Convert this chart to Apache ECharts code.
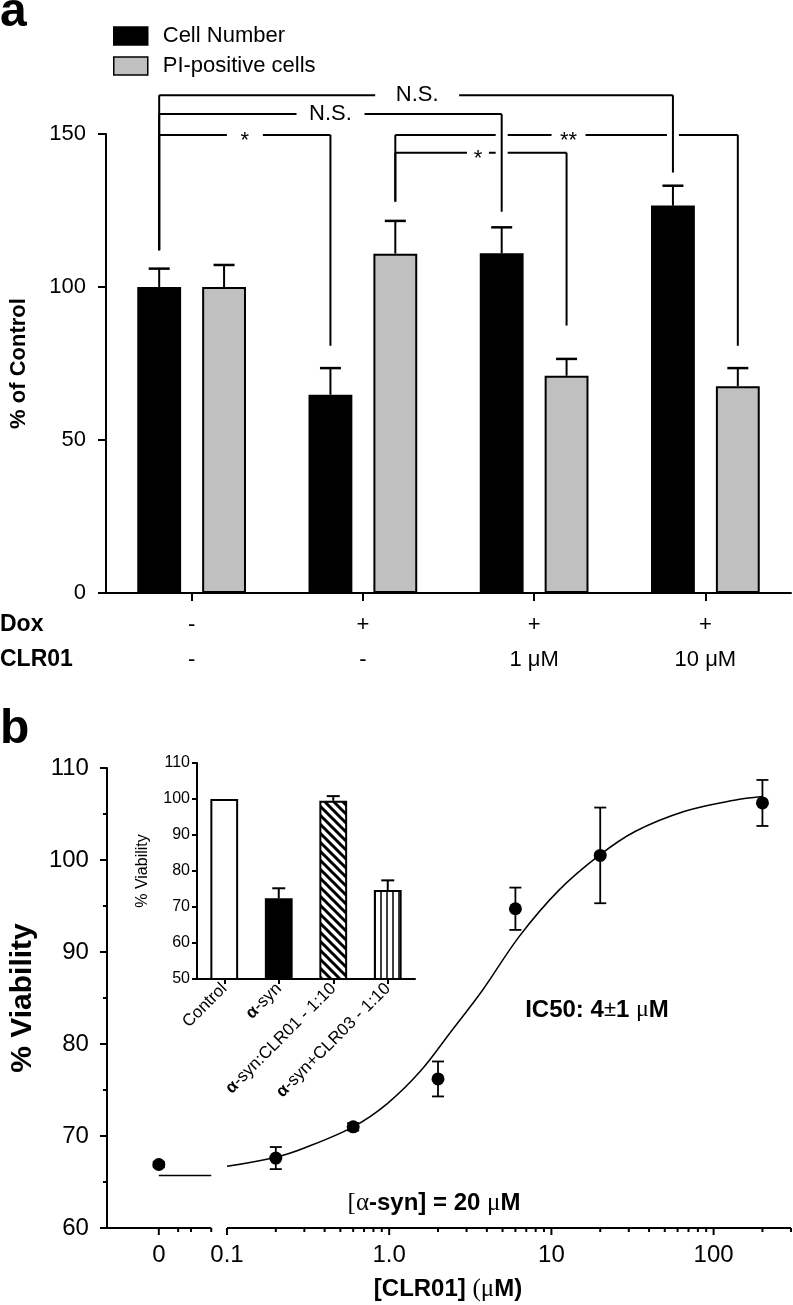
<!DOCTYPE html>
<html>
<head>
<meta charset="utf-8">
<script src="https://cdn.jsdelivr.net/npm/echarts@6/dist/echarts.min.js"></script>
<style>
  html, body { margin: 0; padding: 0; background: #fff; }
  #chart { width: 793px; height: 1305px; }
</style>
</head>
<body>
<div id="chart"></div>
<script>
// ---------- panel a: cell number / PI-positive cells ----------
const groups = ['g1', 'g2', 'g3', 'g4'];
const doxRow = ['-', '+', '+', '+'];
const clrRow = ['-', '-', '1 μM', '10 μM'];
const cellNumber = [100, 64.8, 111, 126.6];
const cellNumberErr = [6, 8.7, 8.5, 6.5];
const piPositive = [100, 110.9, 71, 67.6];
const piPositiveErr = [7.2, 10.7, 5.5, 5.9];

// significance brackets: bar = [group, series], level and drop ends in % of control
const brackets = [
  { from: [0, 0], to: [3, 0], level: 162.7, ends: [112, 137.4], text: 'N.S.' },
  { from: [0, 0], to: [2, 0], level: 156.5, ends: [112, 124.6], text: 'N.S.' },
  { from: [0, 0], to: [1, 0], level: 149.7, ends: [112, 80.8], text: '*' },
  { from: [1, 1], to: [3, 1], level: 149.7, ends: [127.9, 80.8], text: '**' },
  { from: [1, 1], to: [2, 1], level: 143.9, ends: [127.9, 87.4], text: '*' }
];
// where each bracket label sits (group units) and half width of its gap (px)
const bracketLabelAt = [1.317, 0.811, 0.311, 2.201, 1.672];
const bracketLabelGap = [42, 34, 18, 17, 11];

// ---------- panel b: viability vs CLR01 ----------
const viabConc = [0, 0.2, 0.6, 2, 6, 20, 200];
const viabMean = [66.9, 67.6, 71.0, 76.2, 94.7, 100.5, 106.2];
const viabErr = [0.3, 1.2, 0.4, 1.9, 2.3, 5.2, 2.5];

// fitted curve
const curveConc = [0.1, 0.2, 0.3, 0.6, 0.97, 1.55, 2.37, 3.78, 6.34, 11.1, 19.7, 32.8, 66.4, 134, 200];
const curveVal = [66.7, 67.7, 68.7, 71.0, 73.5, 77.0, 81.2, 85.9, 91.7, 96.7, 100.5, 103.1, 105.3, 106.5, 106.9];
const fitBottom = 65.7;

// log x axis with a break; "0" is drawn left of the break
const xMin = 0.0182, xMax = 300;
const xBreak = [0.08, 0.1];
const zeroPos = 0.038;
const xMajorTicks = [zeroPos, 0.1, 1, 10, 100];
const xMajorLabels = ['0', '0.1', '1.0', '10', '100'];
const xMinorTicks = [0.05, 0.06, 0.08,
  0.2, 0.3, 0.4, 0.5, 0.6, 0.7, 0.8, 0.9,
  2, 3, 4, 5, 6, 7, 8, 9,
  20, 30, 40, 50, 60, 70, 80, 90,
  200, 300];

// ---------- inset ----------
const insetCats = ['Control', 'α-syn', 'α-syn:CLR01 - 1:10', 'α-syn+CLR03 - 1:10'];
const insetMean = [100, 72.4, 99.5, 74.7];
const insetErr = [0, 2.8, 1.3, 2.7];

const FONT = 'Liberation Sans, Arial, Helvetica, sans-serif';
const SERIF = 'Liberation Serif, Times New Roman, serif';
const BLACK = '#000';
const GREY = '#c0c0c0';

// bar layout in panel a (fraction of a category band)
const BAR_W = 0.256, BAR_GAP = 0.48;
const half = (BAR_W + BAR_W * BAR_GAP) / 2;
const barOffset = [-half, half];

function stripes(kind) {
  const c = document.createElement('canvas');
  const s = kind === 'diag' ? 9 : 6;
  c.width = s; c.height = s;
  const g = c.getContext('2d');
  g.fillStyle = '#fff';
  g.fillRect(0, 0, s, s);
  g.strokeStyle = '#000';
  g.beginPath();
  if (kind === 'diag') {
    g.lineWidth = 3;
    g.moveTo(-s, 0); g.lineTo(s, 2 * s);
    g.moveTo(0, 0); g.lineTo(s, s);
    g.moveTo(0, -s); g.lineTo(2 * s, s);
  } else {
    g.lineWidth = 1.5;
    g.moveTo(s / 2, 0); g.lineTo(s / 2, s);
  }
  g.stroke();
  return { image: c, repeat: 'repeat' };
}

const insetStyles = [
  { color: '#fff', borderColor: BLACK, borderWidth: 2 },
  { color: BLACK, borderColor: BLACK, borderWidth: 2 },
  { color: stripes('diag'), borderColor: BLACK, borderWidth: 2 },
  { color: stripes('vert'), borderColor: BLACK, borderWidth: 2 }
];

const lineStyle = { color: BLACK, width: 2 };
const seg = (x1, y1, x2, y2, w, col) => ({
  type: 'line',
  shape: { x1, y1, x2, y2 },
  style: { stroke: col || BLACK, lineWidth: w || 2 }
});

const errA = [];
cellNumber.forEach((v, i) => errA.push([i + barOffset[0], v, cellNumberErr[i]]));
piPositive.forEach((v, i) => errA.push([i + barOffset[1], v, piPositiveErr[i]]));

const chart = echarts.init(document.getElementById('chart'));

const option = {
  animation: false,
  textStyle: { fontFamily: FONT, color: BLACK },
  legend: {
    data: ['Cell Number', 'PI-positive cells'],
    orient: 'vertical',
    left: 113,
    top: 25,
    padding: 0,
    icon: 'rect',
    itemWidth: 34,
    itemHeight: 18,
    itemGap: 8,
    itemStyle: { borderColor: BLACK, borderWidth: 1.5 },
    textStyle: { fontSize: 22, lineHeight: 22, color: BLACK, padding: [0, 0, 0, 10] }
  },
  grid: [
    { left: 103, top: 134, width: 688, height: 459 },
    { left: 101, top: 768, width: 690, height: 460 },
    { left: 197, top: 763, width: 218, height: 216 }
  ],
  xAxis: [
    {
      type: 'category', gridIndex: 0, data: groups,
      axisLine: { show: true, lineStyle },
      axisTick: { show: true, alignWithLabel: true, length: 8, lineStyle },
      axisLabel: {
        fontSize: 22, lineHeight: 35, margin: 14, color: BLACK,
        formatter: (v, i) => doxRow[i] + '\n' + clrRow[i]
      },
      splitLine: { show: false }
    },
    { type: 'value', gridIndex: 0, min: -0.5, max: 3.5, show: false },
    {
      type: 'log', gridIndex: 1, logBase: 10, min: xMin, max: xMax,
      axisLine: { show: false }, axisTick: { show: false },
      axisLabel: { show: false }, splitLine: { show: false }
    },
    {
      type: 'category', gridIndex: 2, data: insetCats,
      axisLine: { show: true, lineStyle },
      axisTick: { show: true, alignWithLabel: true, length: 5, lineStyle },
      axisLabel: {
        rotate: 45, fontSize: 17, margin: 7, color: BLACK, interval: 0,
        formatter: v => v.replace('α', '{b|α}'),
        rich: { b: { fontWeight: 'bold', fontSize: 17 } }
      },
      splitLine: { show: false }
    }
  ],
  yAxis: [
    {
      type: 'value', gridIndex: 0, min: 0, max: 150, interval: 50,
      axisLine: { show: true, onZero: false, lineStyle },
      axisTick: { show: true, length: 8, lineStyle },
      axisLabel: { fontSize: 22, margin: 20, color: BLACK },
      splitLine: { show: false },
      name: '% of Control', nameLocation: 'middle', nameGap: 76,
      nameTextStyle: { fontSize: 22, fontWeight: 'bold', color: BLACK }
    },
    {
      type: 'value', gridIndex: 1, min: 60, max: 110, interval: 10,
      axisLine: { show: true, onZero: false, lineStyle },
      axisTick: { show: true, length: 7, lineStyle },
      minorTick: { show: true, splitNumber: 2, length: 4, lineStyle },
      axisLabel: { fontSize: 24, margin: 18, color: BLACK },
      splitLine: { show: false },
      name: '% Viability', nameLocation: 'middle', nameGap: 66,
      nameTextStyle: { fontSize: 30, fontWeight: 'bold', color: BLACK }
    },
    {
      type: 'value', gridIndex: 2, min: 50, max: 110, interval: 10,
      axisLine: { show: true, onZero: false, lineStyle },
      axisTick: { show: true, length: 5, lineStyle },
      axisLabel: { fontSize: 16, margin: 7, color: BLACK },
      splitLine: { show: false },
      name: '% Viability', nameLocation: 'middle', nameGap: 46,
      nameTextStyle: { fontSize: 16, color: BLACK }
    }
  ],
  series: [
    {
      name: 'Cell Number', type: 'bar', xAxisIndex: 0, yAxisIndex: 0,
      data: cellNumber, barWidth: (BAR_W * 100) + '%', barGap: (BAR_GAP * 100) + '%',
      itemStyle: { color: BLACK, borderColor: BLACK, borderWidth: 1.5 }
    },
    {
      name: 'PI-positive cells', type: 'bar', xAxisIndex: 0, yAxisIndex: 0,
      data: piPositive, barWidth: (BAR_W * 100) + '%',
      itemStyle: { color: GREY, borderColor: BLACK, borderWidth: 2 }
    },
    {
      type: 'custom', xAxisIndex: 1, yAxisIndex: 0, data: errA, clip: false, z: 3,
      renderItem: (params, api) => {
        const b = api.coord([api.value(0), api.value(1)]);
        const t = api.coord([api.value(0), api.value(1) + api.value(2)]);
        return { type: 'group', children: [
          seg(b[0], b[1], t[0], t[1]),
          seg(t[0] - 10.5, t[1], t[0] + 10.5, t[1], 2.5)
        ] };
      }
    },
    {
      type: 'custom', xAxisIndex: 1, yAxisIndex: 0, data: [[0, 0]], clip: false, z: 4,
      renderItem: (params, api) => {
        const kids = [], drops = [];
        brackets.forEach((b, i) => {
          const xa = b.from[0] + barOffset[b.from[1]];
          const xb = b.to[0] + barOffset[b.to[1]];
          const a = api.coord([xa, b.level]);
          const c = api.coord([xb, b.level]);
          const ae = api.coord([xa, b.ends[0]]);
          const ce = api.coord([xb, b.ends[1]]);
          const t = api.coord([bracketLabelAt[i], b.level]);
          const g = bracketLabelGap[i];
          kids.push(seg(a[0], a[1], t[0] - g, a[1]));
          kids.push(seg(t[0] + g, a[1], c[0], c[1]));
          kids.push(seg(a[0], a[1], ae[0], ae[1]));
          kids.push({
            type: 'text',
            style: {
              x: t[0], y: t[1] + (b.text.indexOf('*') >= 0 ? 6 : 0),
              text: b.text, fontSize: 22, fontFamily: FONT, fill: BLACK,
              align: 'center', verticalAlign: 'middle'
            }
          });
          drops.push(seg(c[0], c[1] + 7, ce[0], ce[1], 12, '#fff'));
          drops.push(seg(c[0], c[1], ce[0], ce[1]));
        });
        return { type: 'group', children: kids.concat(drops) };
      }
    },
    // broken x axis line of panel b
    {
      type: 'line', xAxisIndex: 2, yAxisIndex: 1, clip: false, showSymbol: false, silent: true,
      data: [[xMin, 60], [xBreak[0], 60]], lineStyle: { color: BLACK, width: 2 }, z: 5
    },
    {
      type: 'line', xAxisIndex: 2, yAxisIndex: 1, clip: false, showSymbol: false, silent: true,
      data: [[xBreak[1], 60], [xMax, 60]], lineStyle: { color: BLACK, width: 2 }, z: 5
    },
    {
      type: 'custom', xAxisIndex: 2, yAxisIndex: 1, clip: false, z: 5,
      data: xMinorTicks.map(v => [v, 0, -1]).concat(xMajorTicks.map((v, i) => [v, 1, i])),
      renderItem: (params, api) => {
        const p = api.coord([api.value(0), 60]);
        const major = api.value(1) === 1;
        const len = major ? 7 : 4;
        const kids = [seg(p[0], p[1], p[0], p[1] + len)];
        if (major) {
          kids.push({
            type: 'text',
            style: {
              x: p[0], y: p[1] + 27, text: xMajorLabels[api.value(2)],
              fontSize: 24, fontFamily: FONT, fill: BLACK,
              align: 'center', verticalAlign: 'middle'
            }
          });
        }
        return { type: 'group', children: kids };
      }
    },
    {
      type: 'line', xAxisIndex: 2, yAxisIndex: 1, showSymbol: false, silent: true,
      data: [[zeroPos, fitBottom], [xBreak[0], fitBottom]],
      lineStyle: { color: BLACK, width: 1.5 }
    },
    {
      type: 'line', xAxisIndex: 2, yAxisIndex: 1, showSymbol: false, silent: true,
      smooth: 0.35,
      data: curveConc.map((c, i) => [c, curveVal[i]]),
      lineStyle: { color: BLACK, width: 1.5 }
    },
    {
      type: 'custom', xAxisIndex: 2, yAxisIndex: 1, clip: false, z: 3,
      data: viabConc.map((c, i) => [c === 0 ? zeroPos : c, viabMean[i], viabErr[i]]),
      renderItem: (params, api) => {
        const lo = api.coord([api.value(0), api.value(1) - api.value(2)]);
        const hi = api.coord([api.value(0), api.value(1) + api.value(2)]);
        return { type: 'group', children: [
          seg(lo[0], lo[1], hi[0], hi[1], 1.8),
          seg(hi[0] - 6, hi[1], hi[0] + 6, hi[1], 1.8),
          seg(lo[0] - 6, lo[1], lo[0] + 6, lo[1], 1.8)
        ] };
      }
    },
    {
      type: 'scatter', xAxisIndex: 2, yAxisIndex: 1, symbol: 'circle', symbolSize: 13, z: 6,
      data: viabConc.map((c, i) => [c === 0 ? zeroPos : c, viabMean[i]]),
      itemStyle: { color: BLACK, opacity: 1 }
    },
    // inset bars
    {
      type: 'bar', xAxisIndex: 3, yAxisIndex: 2, barWidth: '51%',
      data: insetMean.map((v, i) => ({ value: v, itemStyle: insetStyles[i] }))
    },
    {
      type: 'custom', xAxisIndex: 3, yAxisIndex: 2, clip: false, z: 3,
      data: insetMean.map((v, i) => [i, v, insetErr[i]]),
      renderItem: (params, api) => {
        if (api.value(2) <= 0) return null;
        const b = api.coord([api.value(0), api.value(1)]);
        const t = api.coord([api.value(0), api.value(1) + api.value(2)]);
        return { type: 'group', children: [
          seg(b[0], b[1], t[0], t[1]),
          seg(t[0] - 6.5, t[1], t[0] + 6.5, t[1], 2)
        ] };
      }
    }
  ],
  graphic: [
    { type: 'text', x: 0, y: 13, style: { text: 'a', fontSize: 48, fontWeight: 'bold', fontFamily: FONT, fill: BLACK, verticalAlign: 'middle' } },
    { type: 'text', x: 0, y: 730, style: { text: 'b', fontSize: 48, fontWeight: 'bold', fontFamily: FONT, fill: BLACK, verticalAlign: 'middle' } },
    { type: 'text', x: 0, y: 625, style: { text: 'Dox', fontSize: 23, fontWeight: 'bold', fontFamily: FONT, fill: BLACK, verticalAlign: 'middle' } },
    { type: 'text', x: 0, y: 660, style: { text: 'CLR01', fontSize: 23, fontWeight: 'bold', fontFamily: FONT, fill: BLACK, verticalAlign: 'middle' } },
    {
      type: 'text', x: 597, y: 1010,
      style: {
        text: '{b|IC50: 4}{pm|±}{b|1 }{s|μ}{b|M}', align: 'center', verticalAlign: 'middle',
        rich: {
          b: { fontSize: 24, fontWeight: 'bold', fontFamily: FONT, fill: BLACK },
          pm: { fontSize: 22, fontFamily: FONT, fill: BLACK },
          s: { fontSize: 24, fontFamily: SERIF, fill: BLACK }
        }
      }
    },
    {
      type: 'text', x: 434, y: 1203,
      style: {
        text: '{s|[α}{b|-syn] = 20 }{s|μ}{b|M}', align: 'center', verticalAlign: 'middle',
        rich: {
          b: { fontSize: 24, fontWeight: 'bold', fontFamily: FONT, fill: BLACK },
          s: { fontSize: 25, fontFamily: SERIF, fill: BLACK }
        }
      }
    },
    {
      type: 'text', x: 448, y: 1289,
      style: {
        text: '{b|[CLR01] }{s|(μ}{b|M)}', align: 'center', verticalAlign: 'middle',
        rich: {
          b: { fontSize: 24, fontWeight: 'bold', fontFamily: FONT, fill: BLACK },
          s: { fontSize: 25, fontFamily: SERIF, fill: BLACK }
        }
      }
    }
  ]
};

chart.setOption(option);
</script>
</body>
</html>
